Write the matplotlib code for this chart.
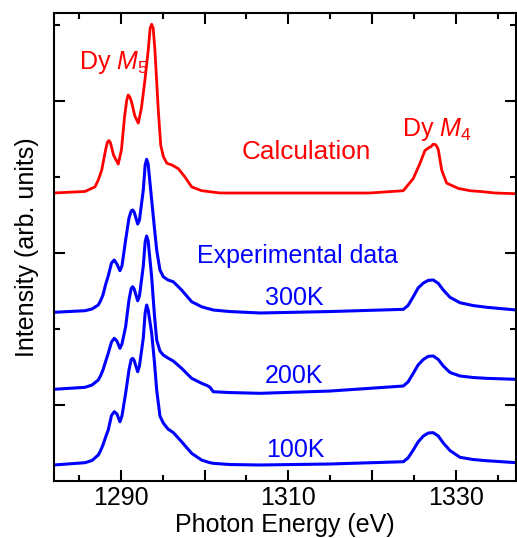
import matplotlib
matplotlib.use('Agg')
import matplotlib.pyplot as plt
from matplotlib.ticker import FixedLocator

plt.rcParams['font.family'] = ['Liberation Sans', 'DejaVu Sans']
plt.rcParams['mathtext.fontset'] = 'custom'
plt.rcParams['mathtext.rm'] = 'Liberation Sans'
plt.rcParams['mathtext.it'] = 'Liberation Sans:italic'

# calculated spectrum (offset stack, arb. units)
calc_energy = [1282.01, 1285.71, 1286.91, 1287.30, 1287.71, 1288.18, 1288.40, 1288.58, 1288.76,
               1289.12, 1289.69, 1290.07, 1290.43, 1290.70, 1290.88, 1291.09, 1291.27,
               1291.68, 1292.08, 1292.46, 1292.88, 1293.27, 1293.50, 1293.68, 1293.86,
               1294.07, 1294.47, 1294.76, 1295.07, 1295.51, 1296.07, 1296.86, 1297.66,
               1298.46, 1299.65, 1301.84, 1319.76, 1323.74, 1324.93, 1325.73, 1326.33,
               1326.85, 1327.05, 1327.29, 1327.53, 1327.71, 1327.92, 1328.33, 1328.92,
               1330.31, 1331.71, 1332.90, 1334.70, 1337.32]
calc_int = [3.79, 3.81, 3.87, 3.96, 4.09, 4.36, 4.46, 4.48, 4.45,
            4.29, 4.17, 4.36, 4.78, 5.01, 5.08, 5.05, 4.99,
            4.80, 4.71, 4.91, 5.28, 5.67, 5.96, 6.01, 5.96,
            5.67, 4.88, 4.42, 4.27, 4.18, 4.16, 4.11, 4.00,
            3.87, 3.82, 3.79, 3.79, 3.82, 3.98, 4.18, 4.35,
            4.39, 4.40, 4.43, 4.43, 4.41, 4.36, 4.09, 3.92,
            3.85, 3.82, 3.81, 3.79, 3.78]

# experimental spectra share one energy grid
exp_energy = [1282.01, 1285.71, 1286.55, 1287.30, 1287.56, 1287.86, 1288.16, 1288.49,
              1288.88, 1289.21, 1289.53,
              1289.89, 1290.13, 1290.57, 1290.97, 1291.23, 1291.41, 1291.59, 1292.01,
              1292.22, 1292.68, 1292.90, 1293.08, 1293.26, 1293.68, 1294.01, 1294.28,
              1294.67, 1295.07, 1295.63, 1296.26, 1297.26, 1298.46, 1299.65, 1300.29,
              1300.65, 1301.04, 1303.03, 1306.62, 1314.98, 1323.74, 1324.30, 1324.93,
              1325.50, 1326.13, 1326.73, 1327.32, 1327.92, 1328.52, 1329.32, 1330.51,
              1332.07, 1333.70, 1337.29]
int_300K = [2.220, 2.241, 2.263, 2.316, 2.368, 2.447, 2.579, 2.697,
            2.868, 2.908, 2.855,
            2.767, 2.829, 3.171, 3.461, 3.553, 3.566, 3.539, 3.382,
            3.434, 3.829, 4.158, 4.233, 4.171, 3.697, 3.329, 3.039,
            2.776, 2.688, 2.645, 2.622, 2.513, 2.359, 2.293, 2.272,
            2.263, 2.250, 2.230, 2.211, 2.230, 2.259, 2.309, 2.425,
            2.539, 2.605, 2.641, 2.645, 2.601, 2.513, 2.417, 2.346,
            2.309, 2.286, 2.250]
int_200K = [1.207, 1.233, 1.263, 1.329, 1.382, 1.461, 1.566, 1.680,
            1.829, 1.878, 1.842,
            1.746, 1.803, 2.030, 2.382, 2.533, 2.557, 2.526, 2.372,
            2.434, 2.829, 3.145, 3.224, 3.158, 2.684, 2.184, 1.855,
            1.711, 1.658, 1.618, 1.579, 1.483, 1.351, 1.286, 1.257,
            1.233, 1.175, 1.164, 1.154, 1.184, 1.250, 1.303, 1.417,
            1.526, 1.599, 1.641, 1.645, 1.599, 1.513, 1.428, 1.382,
            1.362, 1.351, 1.338]
int_100K = [0.211, 0.241, 0.270, 0.342, 0.395, 0.474, 0.572, 0.671,
            0.862, 0.912, 0.882,
            0.780, 0.855, 1.154, 1.461, 1.599, 1.614, 1.586, 1.438,
            1.513, 1.882, 2.211, 2.316, 2.250, 1.947, 1.566, 1.197,
            0.855, 0.763, 0.684, 0.638, 0.517, 0.364, 0.276, 0.253,
            0.241, 0.233, 0.217, 0.211, 0.224, 0.254, 0.303, 0.408,
            0.513, 0.592, 0.632, 0.636, 0.592, 0.500, 0.401, 0.312,
            0.283, 0.267, 0.241]

RED = '#ff0000'
BLUE = '#0000ff'

fig = plt.figure(figsize=(5.17, 5.38), dpi=100)
ax = fig.add_axes([0.1044, 0.1059, 0.8946, 0.8699])

ax.plot(calc_energy, calc_int, color=RED, lw=2.0, solid_joinstyle='round')
for y in (int_300K, int_200K, int_100K):
    ax.plot(exp_energy, y, color=BLUE, lw=2.2, solid_joinstyle='round')

# labels in the plot
ax.text(1284.99, 5.42, r'Dy $\mathit{M}_{\mathrm{5}}$', color=RED, fontsize=18)
ax.text(1323.55, 4.54, r'Dy $\mathit{M}_{\mathrm{4}}$', color=RED, fontsize=18)
ax.text(1304.43, 4.24, 'Calculation', color=RED, fontsize=18.8)
ax.text(1299.09, 2.87, 'Experimental data', color=BLUE, fontsize=18)
ax.text(1307.22, 2.32, '300K', color=BLUE, fontsize=18)
ax.text(1307.22, 1.29, '200K', color=BLUE, fontsize=18)
ax.text(1307.40, 0.32, '100K', color=BLUE, fontsize=18)

ax.set_xlim(1282.01, 1337.26)
ax.set_ylim(0, 6.158)

ax.xaxis.set_major_locator(FixedLocator([1290, 1300, 1310, 1320, 1330]))
ax.set_xticklabels(['1290', '', '1310', '', '1330'])
ax.xaxis.set_minor_locator(FixedLocator([1285, 1295, 1305, 1315, 1325, 1335]))
ax.yaxis.set_major_locator(FixedLocator([1, 3, 5]))
ax.yaxis.set_minor_locator(FixedLocator([2, 4, 6]))
ax.set_yticklabels([])

ax.tick_params(which='both', direction='in', top=True, right=True, width=1.5, labelsize=18)
ax.tick_params(which='major', length=8)
ax.tick_params(which='minor', length=4)
for s in ax.spines.values():
    s.set_linewidth(1.5)

ax.set_xlabel('Photon Energy (eV)', fontsize=18, labelpad=2)
ax.set_ylabel('Intensity (arb. units)', fontsize=18, labelpad=7)

fig.savefig('out.png', dpi=100)
